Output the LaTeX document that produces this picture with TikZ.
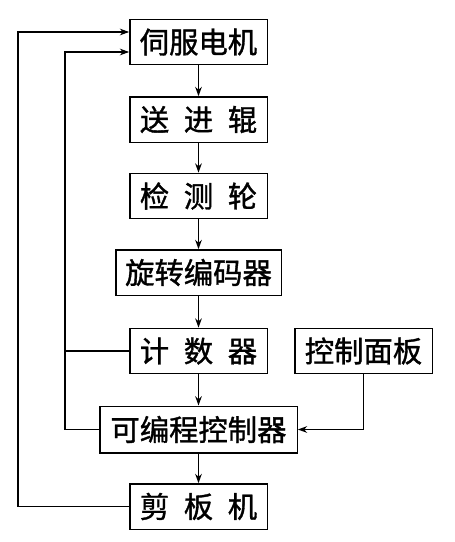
\documentclass[tikz,border=0pt]{standalone}
\usepackage{fontspec}
\newfontfamily\cjk[FakeBold=1.2]{Noto Sans CJK SC}
\usetikzlibrary{arrows.meta}
\newcommand{\gap}{\hspace{.5em}}

\begin{document}
\begin{tikzpicture}[
                    x=0.75pt, y=-0.75pt,
                    >={Stealth[length=7pt,width=5pt]},
                    every node/.style={inner sep=0pt, font=\cjk\fontsize{22}{22}\selectfont},
                    block/.style={draw, line width=1pt, minimum width=103pt, minimum height=34pt},
                    flow/.style={draw, line width=1pt, ->}
                  ]
                  \useasboundingbox (0,0) rectangle (454,542);
                  % main column
                  \node[block] (servo)   at (198.5,42)    {伺服电机};
                  \node[block] (feed)    at (198.5,119.5) {送\gap 进\gap 辊};
                  \node[block] (wheel)   at (198.5,196)   {检\gap 测\gap 轮};
                  \node[block, minimum width=124pt] (encoder) at (198.5,272.5) {旋转编码器};
                  \node[block] (counter) at (198.5,351)   {计\gap 数\gap 器};
                  \node[block] (panel)   at (363.5,351)   {控制面板};
                  \node[block, minimum width=148pt, minimum height=35pt] (plc) at (198.5,429.5) {可编程控制器};
                  \node[block] (shear)   at (198.5,506.5) {剪\gap 板\gap 机};
                  \coordinate (outer) at (18,0);
                  \coordinate (inner) at (65,0);

                  \draw[flow] (servo) -- (feed);
                  \draw[flow] (feed) -- (wheel);
                  \draw[flow] (wheel) -- (encoder);
                  \draw[flow] (encoder) -- (counter);
                  \draw[flow] (counter) -- (plc);
                  \draw[flow] (plc) -- (shear);
                  \draw[flow] (panel.south) |- (plc.east);
                  % feedback lines
                  \draw[flow] (shear.west) -- (shear.west -| outer) |- ([yshift=7.5pt]servo.west);
                  \draw[flow] (plc.west) -- (plc.west -| inner) |- ([yshift=-7.5pt]servo.west);
                  \draw[line width=1pt] (counter.west) -- (counter.west -| inner);
                \end{tikzpicture}
\end{document}
